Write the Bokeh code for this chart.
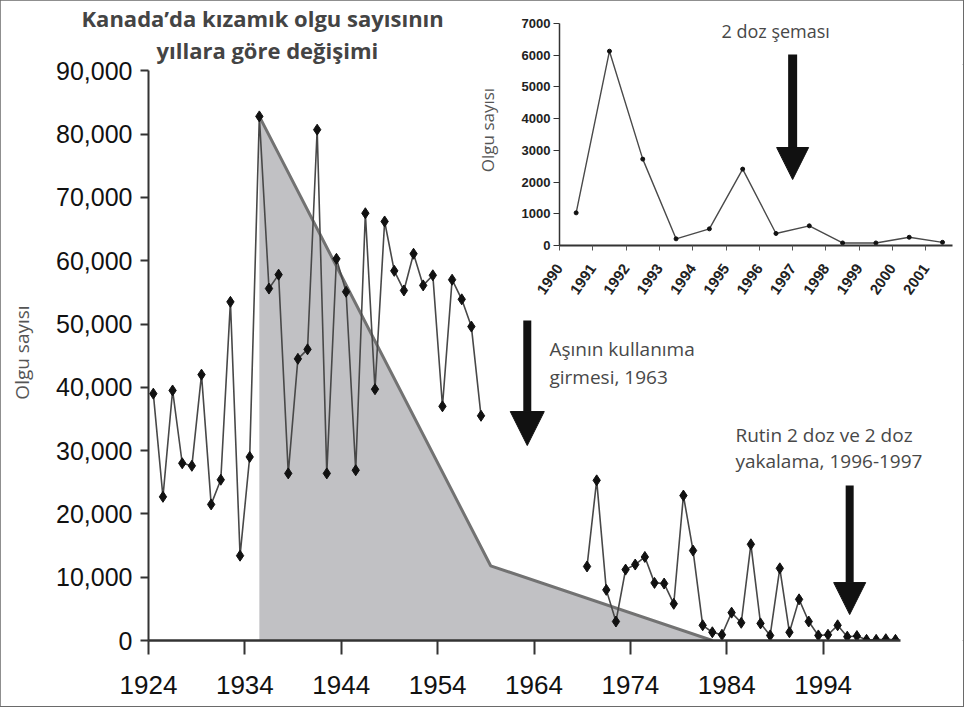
import math
from bokeh.plotting import figure
from bokeh.models import (Range1d, FixedTicker, NumeralTickFormatter, Label,
                          Arrow, NormalHead, Title)
from bokeh.layouts import column
from bokeh.embed import file_html
from bokeh.resources import INLINE

# ---------------- data ----------------
years_a = list(range(1924, 1959))
cases_a = [39000, 22700, 39500, 28000, 27600, 42000, 21500, 25400, 53500, 13400,
           29000, 82800, 55600, 57800, 26400, 44500, 46000, 80700, 26400, 60300,
           55100, 26900, 67500, 39700, 66200, 58400, 55300, 61100, 56100, 57700,
           37000, 57000, 53900, 49600, 35500]
years_b = list(range(1969, 2002))
cases_b = [11700, 25300, 8000, 3000, 11200, 12000, 13200, 9100, 9000, 5800,
           22900, 14200, 2400, 1300, 900, 4400, 2800, 15200, 2700, 800,
           11400, 1300, 6500, 3000, 800, 900, 2400, 600, 700, 100,
           100, 200, 100]
trend_years = [1935.5, 1959.5, 1982.5]
trend_cases = [82800, 11800, 0]

inset_years = list(range(1990, 2002))
inset_cases = [1030, 6130, 2725, 210, 525, 2410, 380, 620, 80, 80, 260, 100]

main_xticks = [1924, 1934, 1944, 1954, 1964, 1974, 1984, 1994]
main_yticks = [0, 10000, 20000, 30000, 40000, 50000, 60000, 70000, 80000, 90000]
inset_xticks = list(range(1990, 2002))
inset_yticks = [0, 1000, 2000, 3000, 4000, 5000, 6000, 7000]

title_lines = ["Kanada\u2019da kızamık olgu sayısının", "yıllara göre değişimi"]
note1_lines = ["Aşının kullanıma", "girmesi, 1963"]
note2_lines = ["Rutin 2 doz ve 2 doz", "yakalama, 1996-1997"]
inset_note = "2 doz şeması"
ylabel = "Olgu sayısı"

SANS = "Liberation Sans"
ROUND = "Open Sans"

def mid(ys):
    return [y + 0.5 for y in ys]

# ---------------- main figure ----------------
W, H = 963, 706
p = figure(width=W, height=H, output_backend="svg", toolbar_location=None,
           x_range=Range1d(1924, 2008.56), y_range=Range1d(0, 91000),
           min_border_left=148, min_border_right=0, min_border_top=64,
           min_border_bottom=66)
p.outline_line_color = None
p.xgrid.visible = False
p.ygrid.visible = False
p.background_fill_color = "white"
p.border_fill_color = "white"
p.styles = {"outline": "2px solid #6a6a6a", "outline-offset": "-1px"}

# two-line title
p.title.text = title_lines[0]
p.title.align = "left"
p.title.offset = -67
p.title.text_font = ROUND
p.title.text_font_size = "22px"
p.title.text_font_style = "bold"
p.title.text_color = "#444444"
p.title.standoff = 0
p.add_layout(Title(text=title_lines[1], align="left", offset=8,
                   text_font=ROUND, text_font_size="22px",
                   text_font_style="bold", text_color="#444444", standoff=0),
             "above")

# shaded trend area
p.varea(x=trend_years, y1=[0] * len(trend_years), y2=trend_cases,
        fill_color="#c1c1c4", fill_alpha=1.0)
p.line(trend_years, trend_cases, line_color="#727272", line_width=3)

# series
p.line(mid(years_a), cases_a, line_color="#484848", line_width=1.6)
p.line(mid(years_b), cases_b, line_color="#484848", line_width=1.6)
p.scatter(mid(years_a), cases_a, marker="diamond", size=11,
          fill_color="#111111", line_color="#111111")
p.scatter(mid(years_b), cases_b, marker="diamond", size=11,
          fill_color="#111111", line_color="#111111")

# axes
xa = p.xaxis[0]
xa.ticker = FixedTicker(ticks=main_xticks)
xa.bounds = (1924, 2002)
xa.minor_tick_line_color = None
xa.major_tick_out = 14
xa.major_tick_in = 0
xa.major_tick_line_width = 2
xa.major_tick_line_color = "#333333"
xa.axis_line_width = 2.5
xa.axis_line_color = "#333333"
xa.major_label_text_font = SANS
xa.major_label_text_font_size = "26px"
xa.major_label_text_color = "#111111"
xa.major_label_standoff = 21

ya = p.yaxis[0]
ya.ticker = FixedTicker(ticks=main_yticks)
ya.bounds = (0, 90000)
ya.formatter = NumeralTickFormatter(format="0,0")
ya.minor_tick_line_color = None
ya.major_tick_out = 8
ya.major_tick_in = 0
ya.major_tick_line_width = 2
ya.major_tick_line_color = "#333333"
ya.axis_line_width = 2
ya.axis_line_color = "#333333"
ya.major_label_text_font = SANS
ya.major_label_text_font_size = "25px"
ya.major_label_text_color = "#111111"
ya.major_label_standoff = 8
ya.axis_label = ylabel
ya.axis_label_text_font = ROUND
ya.axis_label_text_font_style = "normal"
ya.axis_label_text_font_size = "19px"
ya.axis_label_text_color = "#555555"
ya.axis_label_standoff = 18

# annotations
for txt, yy in zip(note1_lines, [46000, 41700]):
    p.add_layout(Label(x=1965.6, y=yy, text=txt, text_align="left",
                       text_baseline="middle", text_font=ROUND,
                       text_font_size="19px", text_color="#484848"))
for txt, yy in zip(note2_lines, [32540, 28280]):
    p.add_layout(Label(x=1984.9, y=yy, text=txt, text_align="left",
                       text_baseline="middle", text_font=ROUND,
                       text_font_size="19px", text_color="#484848"))

p.add_layout(Arrow(end=NormalHead(size=34, fill_color="#111111", line_color="#111111"),
                   x_start=1963.3, y_start=50550, x_end=1963.3, y_end=30800,
                   line_width=8, line_color="#111111"))
p.add_layout(Arrow(end=NormalHead(size=32, fill_color="#111111", line_color="#111111"),
                   x_start=1996.75, y_start=24490, x_end=1996.75, y_end=4100,
                   line_width=8, line_color="#111111"))

# ---------------- inset figure ----------------
# (its left border is aligned with the main figure's by the column layout)
IL = 411
IW, IH = 957 - IL, 306
q = figure(width=IW, height=IH, output_backend="svg", toolbar_location=None,
           x_range=Range1d(1990, 2001.95), y_range=Range1d(0, 7287),
           min_border_left=148, min_border_right=0, min_border_top=12,
           min_border_bottom=63)
q.outline_line_color = None
q.xgrid.visible = False
q.ygrid.visible = False
q.background_fill_color = None
q.border_fill_color = None
q.margin = (-(H - 2), 0, H - 2 - IH, IL)

q.line(mid(inset_years), inset_cases, line_color="#4a4a4a", line_width=1.4)
q.scatter(mid(inset_years), inset_cases, marker="circle", size=4,
          fill_color="#111111", line_color="#111111")

qx = q.xaxis[0]
qx.ticker = FixedTicker(ticks=inset_xticks)
qx.bounds = (1990, 2001.8)
qx.minor_tick_line_color = None
qx.major_tick_out = 5
qx.major_tick_in = 0
qx.axis_line_width = 2
qx.axis_line_color = "#333333"
qx.major_tick_line_color = "#555555"
qx.major_label_orientation = math.radians(55)
qx.major_label_text_font = SANS
qx.major_label_text_font_style = "bold"
qx.major_label_text_font_size = "15px"
qx.major_label_text_color = "#222222"
qx.major_label_standoff = 15

qy = q.yaxis[0]
qy.ticker = FixedTicker(ticks=inset_yticks)
qy.bounds = (0, 7000)
qy.minor_tick_line_color = None
qy.major_tick_out = 6
qy.major_tick_in = 0
qy.axis_line_width = 1.5
qy.axis_line_color = "#333333"
qy.major_tick_line_color = "#333333"
qy.major_label_text_font = SANS
qy.major_label_text_font_style = "bold"
qy.major_label_text_font_size = "13px"
qy.major_label_text_color = "#222222"
qy.major_label_standoff = 3
qy.axis_label = ylabel
qy.axis_label_text_font = ROUND
qy.axis_label_text_font_style = "normal"
qy.axis_label_text_font_size = "17px"
qy.axis_label_text_color = "#555555"
qy.axis_label_standoff = 20

q.add_layout(Label(x=1996.49, y=6780, text=inset_note, text_align="center",
                   text_baseline="middle", text_font=ROUND,
                   text_font_size="18px", text_color="#484848"))
q.add_layout(Arrow(end=NormalHead(size=32, fill_color="#111111", line_color="#111111"),
                   x_start=1997.0, y_start=6025, x_end=1997.0, y_end=2082,
                   line_width=9, line_color="#111111"))

layout = column(p, q)
open("out.html", "w").write(file_html(layout, INLINE))
